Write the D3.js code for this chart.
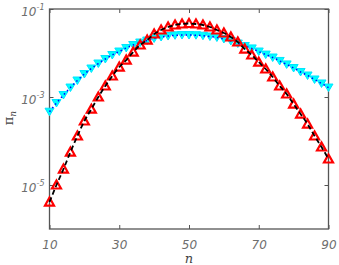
<!DOCTYPE html>
<html>
<head>
<meta charset="utf-8">
<script src="https://cdn.jsdelivr.net/npm/d3@7"></script>
<style>
  html, body { margin: 0; padding: 0; background: #fff; }
  svg { display: block; }
</style>
</head>
<body>
<div id="chart"></div>
<script>
// n values along the x axis (every second n)
var nValues = [10, 12, 14, 16, 18, 20, 22, 24, 26, 28, 30, 32, 34, 36, 38, 40, 42, 44, 46, 48,
               50, 52, 54, 56, 58, 60, 62, 64, 66, 68, 70, 72, 74, 76, 78, 80, 82, 84, 86, 88, 90];

// red series (up triangles, black dashed curve)
var redValues = [4.1e-6, 1.0e-5, 2.3e-5, 5.6e-5, 1.3e-4, 2.85e-4, 5.3e-4, 1.0e-3, 1.78e-3, 3.0e-3,
                 4.8e-3, 6.9e-3, 1.05e-2, 1.52e-2, 1.97e-2, 2.7e-2, 3.33e-2, 3.9e-2, 4.33e-2, 4.56e-2,
                 4.68e-2, 4.56e-2, 4.33e-2, 3.9e-2, 3.33e-2, 2.85e-2, 2.31e-2, 1.78e-2, 1.23e-2, 9.0e-3,
                 6.2e-3, 4.33e-3, 2.85e-3, 1.78e-3, 1.17e-3, 6.9e-4, 4.1e-4, 2.43e-4, 1.3e-4, 7.3e-5, 3.9e-5];

// cyan series (down triangles, blue dotted curve)
var cyanValues = [4.63e-4, 7.3e-4, 1.11e-3, 1.64e-3, 2.37e-3, 3.33e-3, 4.44e-3, 5.77e-3, 7.3e-3, 9.0e-3,
                  1.08e-2, 1.3e-2, 1.52e-2, 1.73e-2, 1.92e-2, 2.14e-2, 2.31e-2, 2.43e-2, 2.52e-2, 2.56e-2,
                  2.56e-2, 2.54e-2, 2.47e-2, 2.37e-2, 2.25e-2, 2.08e-2, 1.87e-2, 1.64e-2, 1.44e-2, 1.27e-2,
                  1.08e-2, 9.2e-3, 7.9e-3, 6.6e-3, 5.5e-3, 4.56e-3, 3.7e-3, 3.08e-3, 2.5e-3, 2.03e-3, 1.64e-3];

var xTickValues = [10, 30, 50, 70, 90];
var yTickValues = [1e-1, 1e-3, 1e-5];
var yTickExponents = ["-1", "-3", "-5"];

(function () {
  var width = 339,
      height = 265,
      margin = { left: 49.5, right: 10.5, top: 9, bottom: 36 },
      plotRight = width - margin.right,
      plotBottom = height - margin.bottom,
      frameColor = "#555",
      labelColor = "#6e6e6e";

  var svg = d3.select("#chart").append("svg")
    .attr("width", width)
    .attr("height", height);

  var x = d3.scaleLinear().domain([10, 90]).range([margin.left, plotRight]);
  var y = d3.scaleLog().domain([1e-6, 1e-1]).range([plotBottom, margin.top]);

  var redPoints = nValues.map(function (n, i) { return [n, redValues[i]]; });
  var cyanPoints = nValues.map(function (n, i) { return [n, cyanValues[i]]; });

  var line = d3.line()
    .x(function (d) { return x(d[0]); })
    .y(function (d) { return y(d[1]); })
    .curve(d3.curveMonotoneX);

  // ------------------------------------------------------------
  // axes (ticks point inward, box on all sides)
  // ------------------------------------------------------------

  function styleAxis(g) {
    g.select(".domain").remove();
    g.selectAll(".tick line").attr("stroke", frameColor).attr("stroke-width", 1);
  }

  var xAxis = svg.append("g")
    .attr("transform", "translate(0," + plotBottom + ")")
    .call(d3.axisBottom(x).tickValues(xTickValues).tickSize(-4).tickPadding(11));
  styleAxis(xAxis);
  xAxis.selectAll(".tick text")
    .attr("font-family", "DejaVu Sans, sans-serif")
    .attr("font-style", "italic")
    .attr("font-size", 12)
    .attr("fill", labelColor);

  var xAxisTop = svg.append("g")
    .attr("transform", "translate(0," + margin.top + ")")
    .call(d3.axisTop(x).tickValues(xTickValues).tickSize(-4).tickFormat(""));
  styleAxis(xAxisTop);

  var yAxis = svg.append("g")
    .attr("transform", "translate(" + margin.left + ",0)")
    .call(d3.axisLeft(y).tickValues(yTickValues).tickSize(-4).tickPadding(5).tickFormat(""));
  styleAxis(yAxis);

  yAxis.selectAll(".tick text").each(function (d, i) {
    var t = d3.select(this)
      .attr("font-family", "DejaVu Sans, sans-serif")
      .attr("font-style", "italic")
      .attr("font-size", 12)
      .attr("fill", labelColor)
      .attr("dy", "0.55em")
      .attr("x", -5);
    t.append("tspan").text("10");
    t.append("tspan")
      .attr("font-size", 8)
      .attr("dy", -6)
      .text(yTickExponents[i]);
  });

  var yAxisRight = svg.append("g")
    .attr("transform", "translate(" + plotRight + ",0)")
    .call(d3.axisRight(y).tickValues(yTickValues).tickSize(-4).tickFormat(""));
  styleAxis(yAxisRight);

  svg.append("rect")
    .attr("x", margin.left)
    .attr("y", margin.top)
    .attr("width", plotRight - margin.left)
    .attr("height", plotBottom - margin.top)
    .attr("fill", "none")
    .attr("stroke", frameColor)
    .attr("stroke-width", 1.3);

  // ------------------------------------------------------------
  // series
  // ------------------------------------------------------------

  var downTri = "M-4.5,-3.5L4.5,-3.5L0,4Z";
  var upTri = "M-4.5,3.5L4.5,3.5L0,-4.5Z";

  svg.append("g").selectAll("path")
    .data(cyanPoints)
    .enter().append("path")
      .attr("transform", function (d) { return "translate(" + x(d[0]) + "," + y(d[1]) + ")"; })
      .attr("d", downTri)
      .attr("fill", "#00ffff")
      .attr("stroke", "#00e5ff")
      .attr("stroke-width", 1);

  svg.append("path")
    .datum(cyanPoints)
    .attr("d", line)
    .attr("fill", "none")
    .attr("stroke", "#0000ff")
    .attr("stroke-width", 1.5)
    .attr("stroke-dasharray", "1.5,3");

  svg.append("g").selectAll("path")
    .data(redPoints)
    .enter().append("path")
      .attr("transform", function (d) { return "translate(" + x(d[0]) + "," + y(d[1]) + ")"; })
      .attr("d", upTri)
      .attr("fill", "none")
      .attr("stroke", "#ff0000")
      .attr("stroke-width", 2.2);

  svg.append("path")
    .datum(redPoints)
    .attr("d", line)
    .attr("fill", "none")
    .attr("stroke", "#000")
    .attr("stroke-width", 1.8)
    .attr("stroke-dasharray", "5,3");

  // ------------------------------------------------------------
  // axis titles
  // ------------------------------------------------------------

  svg.append("text")
    .attr("x", (margin.left + plotRight) / 2)
    .attr("y", 263)
    .attr("text-anchor", "middle")
    .attr("font-family", "DejaVu Serif, serif")
    .attr("font-style", "italic")
    .attr("font-size", 13)
    .attr("fill", "#444")
    .text("n");

  var yTitle = svg.append("text")
    .attr("transform", "translate(13,118) rotate(-90)")
    .attr("text-anchor", "middle")
    .attr("font-family", "DejaVu Serif, serif")
    .attr("font-size", 13)
    .attr("fill", "#444");
  yTitle.append("tspan").text("\u03c0");
  yTitle.append("tspan").attr("font-size", 9).attr("font-style", "italic").attr("dy", 3).text("n");
})();
</script>
</body>
</html>
